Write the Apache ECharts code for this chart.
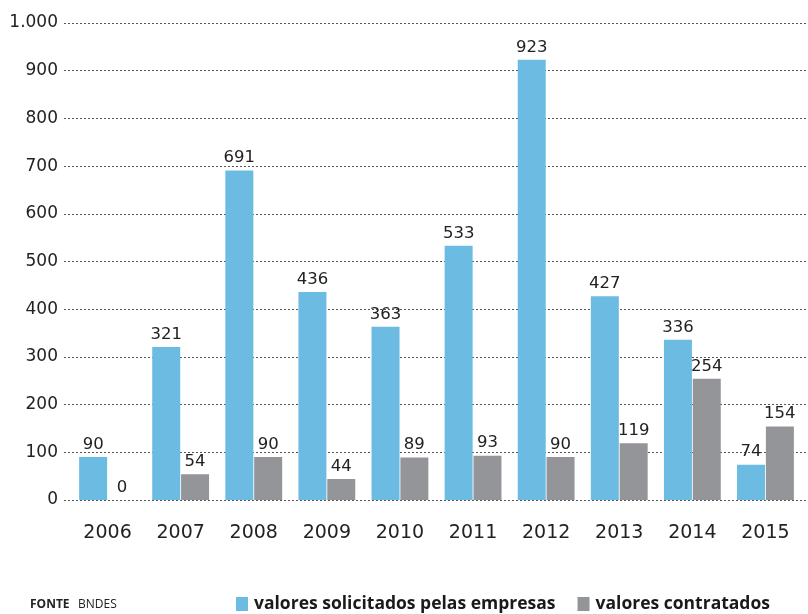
<!DOCTYPE html>
<html><head><meta charset="utf-8">
<script src="https://cdn.jsdelivr.net/npm/echarts@6/dist/echarts.min.js"></script>
<style>html,body{margin:0;padding:0;background:#fff}#c{width:808px;height:614px}</style>
</head><body><div id="c"></div>
<script>
const years = ['2006','2007','2008','2009','2010','2011','2012','2013','2014','2015'];
const solicitados = [90,321,691,436,363,533,923,427,336,74];
const contratados = [0,54,90,44,89,93,90,119,254,154];
const seriesNames = ['valores solicitados pelas empresas','valores contratados'];
const yTicks = [0,100,200,300,400,500,600,700,800,900,1000];

const numFont = 'DejaVu Sans';
const chart = echarts.init(document.getElementById('c'));
const fmt = v => v >= 1000 ? (Math.floor(v/1000) + '.' + String(v%1000).padStart(3,'0')) : String(v);
chart.setOption({
  animation: false,
  textStyle: { fontFamily: numFont },
  grid: [
    { left: 71, right: 6, top: 23, bottom: 114 },
    { left: 64, right: 0, top: 23, bottom: 114 }
  ],
  xAxis: [
    { type: 'category', data: years, gridIndex: 0,
      axisLine: { show: false }, axisTick: { show: false },
      axisLabel: { color: '#222', fontSize: 19, margin: 24, fontFamily: numFont } },
    { type: 'value', gridIndex: 1, show: false, min: 0, max: 1 }
  ],
  yAxis: [
    { type: 'value', gridIndex: 0, min: yTicks[0], max: yTicks[yTicks.length-1], interval: 100, show: false },
    { type: 'value', gridIndex: 1, min: yTicks[0], max: yTicks[yTicks.length-1], interval: 100,
      axisLine: { show: false }, axisTick: { show: false },
      axisLabel: { color: '#222', fontSize: 17, margin: 6, formatter: fmt, fontFamily: numFont },
      splitLine: { show: true, lineStyle: { color: '#555', type: [2, 2], width: 1 } } }
  ],
  legend: {
    left: 236, top: 595, padding: 0, itemWidth: 12, itemHeight: 14, itemGap: 22,
    icon: 'rect',
    textStyle: { fontSize: 17.5, fontWeight: 'bold', color: '#1a1a1a', fontFamily: 'Open Sans', padding: [0,0,0,1] },
    data: seriesNames
  },
  graphic: [
    { type: 'text', left: 30, top: 599, style: { text: 'FONTE', font: 'bold 12px "Open Sans"', fill: '#222' } },
    { type: 'text', left: 78, top: 599, style: { text: 'BNDES', font: '12px "Open Sans"', fill: '#222' } }
  ],
  series: [
    { name: seriesNames[0], type: 'bar', data: solicitados, xAxisIndex: 0, yAxisIndex: 0,
      barWidth: 28, barGap: '3%',
      itemStyle: { color: '#6cbbe3' },
      label: { show: true, position: 'top', color: '#222', fontSize: 16.5, distance: 4, fontFamily: numFont } },
    { name: seriesNames[1], type: 'bar', data: contratados, xAxisIndex: 0, yAxisIndex: 0,
      barWidth: 28, barGap: '3%',
      itemStyle: { color: '#939598' },
      label: { show: true, position: 'top', color: '#222', fontSize: 16.5, distance: 4, fontFamily: numFont } }
  ]
});
</script></body></html>
